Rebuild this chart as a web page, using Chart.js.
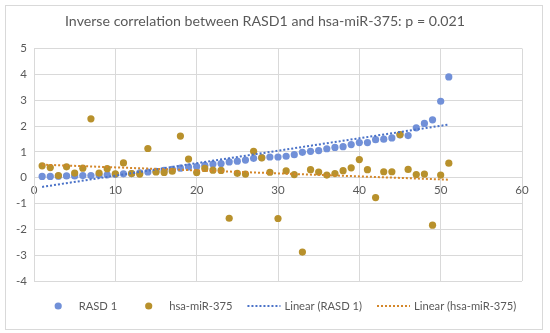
<!DOCTYPE html>
<html>
<head>
<meta charset="utf-8">
<script src="https://cdn.jsdelivr.net/npm/chart.js@4.4.1/dist/chart.umd.min.js"></script>
<style>
  html, body { margin: 0; padding: 0; background: #fff; }
  #wrap { width: 550px; height: 333px; position: relative; }
</style>
</head>
<body>
<div id="wrap"><canvas id="corrChart"></canvas></div>
<script>
// Sample number (x) for each point
const sampleIndex = [1, 2, 3, 4, 5, 6, 7, 8, 9, 10, 11, 12, 13, 14, 15, 16, 17, 18, 19, 20,
  21, 22, 23, 24, 25, 26, 27, 28, 29, 30, 31, 32, 33, 34, 35, 36, 37, 38, 39, 40,
  41, 42, 43, 44, 45, 46, 47, 48, 49, 50, 51];

// RASD 1 expression (sorted ascending)
const rasd1 = [0.05, 0.05, 0.06, 0.07, 0.07, 0.08, 0.08, 0.10, 0.11, 0.13,
  0.15, 0.16, 0.19, 0.22, 0.25, 0.28, 0.32, 0.37, 0.41, 0.43,
  0.48, 0.53, 0.55, 0.61, 0.64, 0.68, 0.75, 0.78, 0.80, 0.80,
  0.83, 0.89, 0.98, 1.02, 1.05, 1.12, 1.17, 1.20, 1.28, 1.36,
  1.36, 1.47, 1.49, 1.54, 1.66, 1.63, 1.93, 2.10, 2.24, 2.96, 3.90];

// hsa-miR-375 expression for the same samples
const mir375 = [0.46, 0.39, 0.08, 0.42, 0.18, 0.37, 2.28, 0.18, 0.35, 0.15,
  0.57, 0.16, 0.14, 1.13, 0.22, 0.20, 0.25, 1.61, 0.72, 0.20,
  0.36, 0.29, 0.28, -1.57, 0.17, 0.14, 1.02, 0.77, 0.21, -1.58,
  0.26, 0.12, -2.88, 0.31, 0.22, 0.10, 0.16, 0.27, 0.38, 0.70,
  0.31, -0.77, 0.23, 0.23, 1.67, 0.32, 0.12, 0.14, -1.84, 0.10, 0.56];

const chartTitle = 'Inverse correlation between RASD1 and hsa-miR-375: p = 0.021';
const seriesNames = ['RASD 1', 'hsa-miR-375'];
const xTicks = { min: 0, max: 60, step: 10 };
const yTicks = { min: -4, max: 5, step: 1 };

const FONT = 'Lato, Carlito, Calibri, "Open Sans", sans-serif';
const TEXT_COLOR = '#595959';
const GRID_COLOR = '#d9d9d9';

function toPoints(xs, ys) {
    return xs.map((x, i) => ({ x: x, y: ys[i] }));
}

// least squares fit, drawn from first to last sample like Excel's trendline
function linearTrend(xs, ys) {
    const n = xs.length;
    const mx = xs.reduce((a, b) => a + b, 0) / n;
    const my = ys.reduce((a, b) => a + b, 0) / n;
    let sxy = 0, sxx = 0;
    for (let i = 0; i < n; i++) {
        sxy += (xs[i] - mx) * (ys[i] - my);
        sxx += (xs[i] - mx) * (xs[i] - mx);
    }
    const slope = sxy / sxx;
    const icept = my - slope * mx;
    const x0 = xs[0], x1 = xs[n - 1];
    return [{ x: x0, y: icept + slope * x0 }, { x: x1, y: icept + slope * x1 }];
}

// White background, light frame and an Excel-like legend row
const excelFrame = {
    id: 'excelFrame',
    beforeDraw(chart) {
        const ctx = chart.ctx;
        ctx.save();
        ctx.fillStyle = '#fff';
        ctx.fillRect(0, 0, chart.width, chart.height);
        ctx.strokeStyle = GRID_COLOR;
        ctx.lineWidth = 1;
        ctx.strokeRect(5.5, 5.5, 537, 324);
        ctx.restore();
    },
    afterDraw(chart) {
        const ctx = chart.ctx;
        const sets = chart.data.datasets;
        const keyW = 33, keyGap = 4, itemGap = 15;
        const y = 306, centerX = 279;
        ctx.save();
        ctx.font = '11.2px ' + FONT;
        ctx.textBaseline = 'middle';
        const widths = sets.map(d => keyW + keyGap + ctx.measureText(d.label).width);
        const total = widths.reduce((a, b) => a + b, 0) + itemGap * (sets.length - 1);
        let x = centerX - total / 2;
        sets.forEach((d, i) => {
            if (d.showLine) {
                ctx.strokeStyle = d.borderColor;
                ctx.lineWidth = d.borderWidth;
                ctx.setLineDash(d.borderDash);
                ctx.beginPath();
                ctx.moveTo(x, y);
                ctx.lineTo(x + keyW, y);
                ctx.stroke();
                ctx.setLineDash([]);
            } else {
                ctx.fillStyle = d.backgroundColor;
                ctx.beginPath();
                ctx.arc(x + keyW / 2, y, d.pointRadius, 0, Math.PI * 2);
                ctx.fill();
            }
            ctx.fillStyle = TEXT_COLOR;
            ctx.fillText(d.label, x + keyW + keyGap, y);
            x += widths[i] + itemGap;
        });
        ctx.restore();
    }
};

document.addEventListener('DOMContentLoaded', () => {
    const ctx = document.getElementById('corrChart');

    new Chart(ctx, {
        type: 'scatter',
        data: {
            datasets: [
                {
                    label: seriesNames[0],
                    data: toPoints(sampleIndex, rasd1),
                    backgroundColor: '#7190d8',
                    borderWidth: 0,
                    pointRadius: 3.6,
                    order: 4
                },
                {
                    label: seriesNames[1],
                    data: toPoints(sampleIndex, mir375),
                    backgroundColor: '#b8912c',
                    borderWidth: 0,
                    pointRadius: 3.6,
                    order: 3
                },
                {
                    label: 'Linear (' + seriesNames[0] + ')',
                    data: linearTrend(sampleIndex, rasd1),
                    showLine: true,
                    borderColor: '#4a72c8',
                    borderWidth: 2,
                    borderDash: [2, 2],
                    pointRadius: 0,
                    order: 2
                },
                {
                    label: 'Linear (' + seriesNames[1] + ')',
                    data: linearTrend(sampleIndex, mir375),
                    showLine: true,
                    borderColor: '#d4872a',
                    borderWidth: 2,
                    borderDash: [2, 2],
                    pointRadius: 0,
                    order: 1
                }
            ]
        },
        options: {
            responsive: true,
            maintainAspectRatio: false,
            animation: false,
            layout: {
                padding: { top: 0, left: 8, right: 28, bottom: 52 }
            },
            plugins: {
                legend: { display: false },
                tooltip: { enabled: false },
                title: {
                    display: true,
                    text: chartTitle,
                    color: TEXT_COLOR,
                    font: { family: FONT, size: 14.2, weight: 'normal' },
                    padding: { top: 13, bottom: 18.5 }
                }
            },
            scales: {
                x: {
                    type: 'linear',
                    position: { y: 0 },
                    min: xTicks.min,
                    max: xTicks.max,
                    ticks: {
                        stepSize: xTicks.step,
                        color: TEXT_COLOR,
                        padding: 6,
                        maxRotation: 0,
                        font: { family: FONT, size: 11.5 }
                    },
                    grid: { color: GRID_COLOR, drawTicks: false },
                    border: { color: GRID_COLOR }
                },
                y: {
                    min: yTicks.min,
                    max: yTicks.max,
                    afterFit: (scale) => { scale.width = 26; },
                    ticks: {
                        stepSize: yTicks.step,
                        color: TEXT_COLOR,
                        padding: 7,
                        font: { family: FONT, size: 11.5 }
                    },
                    grid: { color: GRID_COLOR, drawTicks: false },
                    border: { color: GRID_COLOR }
                }
            }
        },
        plugins: [excelFrame]
    });
});
</script>
</body>
</html>
